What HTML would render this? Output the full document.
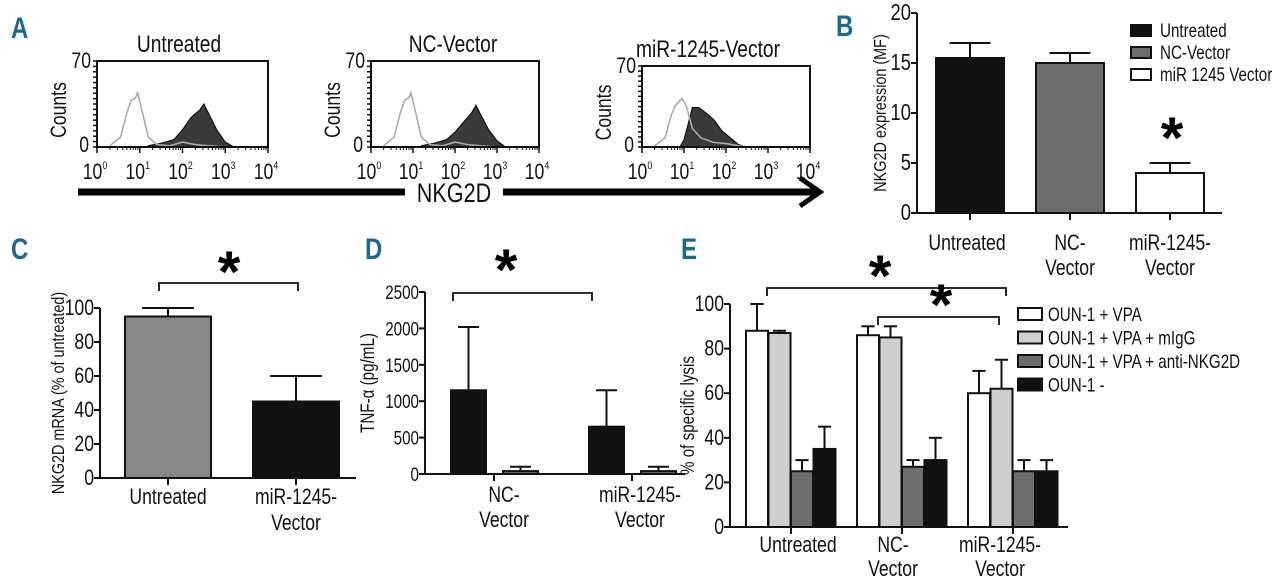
<!DOCTYPE html>
<html><head><meta charset="utf-8"><style>
html,body{margin:0;padding:0;background:#fff;}
svg{display:block;font-family:"Liberation Sans",sans-serif;}
.lbl{fill:#111}
.tk{fill:#111}
.pl{font-weight:bold;fill:#1a6a8f}
</style></head><body>
<svg id="fig" width="1280" height="581" viewBox="0 0 1280 581">
<g>
<text class="pl" font-size="30" x="11" y="38">A</text>
<text class="pl" font-size="30" x="836" y="36">B</text>
<text class="pl" font-size="30" x="11" y="259">C</text>
<text class="pl" font-size="30" x="365" y="259">D</text>
<text class="pl" font-size="30" x="681" y="259">E</text>
</g>
<g id="pa"></g>
<g id="pb"></g>
<g id="pc"></g>
<g id="pd"></g>
<g id="pe"></g>
</svg>
<script>
// ---- Panel A data (log10 fluorescence, counts) ----
const histTitles = ["Untreated","NC-Vector","miR-1245-Vector"];
const histXTicks = ["0","1","2","3","4"];
const isoLogX = [0.3,0.55,0.7,0.8,0.9,0.95,1.05,1.2,1.4,1.7,2.0,2.3,2.6,3.0];
const isoCountsA = [1,8,28,38,40,44,30,8,2,1,4,2,1,0];
const isoCountsB = [1,8,28,38,40,44,30,8,2,1,4,2,1,0];
const isoCountsC = [1,8,28,36,40,42,36,16,8,4,3,1,0,0];
const posLogX = [1.2,1.5,1.8,2.0,2.2,2.4,2.5,2.6,2.8,3.0,3.2];
const posCountsA = [1,3,6,14,24,30,35,28,14,4,0];
const posCountsB = [1,3,6,12,20,28,34,27,14,5,0];
const posLogXC = [0.9,1.0,1.1,1.2,1.35,1.5,1.7,1.9,2.1,2.3,2.5];
const posCountsC = [0,6,20,34,34,30,24,14,8,2,0];
// ---- Panel B ----
const bCats = [["Untreated"],["NC-","Vector"],["miR-1245-","Vector"]];
const bVals = [15.5,15,4];
const bErr = [17,16,5];
const bTicks = [0,5,10,15,20];
const bLegend = ["Untreated","NC-Vector","miR 1245 Vector"];
// ---- Panel C ----
const cCats = [["Untreated"],["miR-1245-","Vector"]];
const cVals = [95,45];
const cErr = [100,60];
const cTicks = [0,20,40,60,80,100];
// ---- Panel D ----
const dCats = [["NC-","Vector"],["miR-1245-","Vector"]];
const dVals1 = [1150,650];
const dErr1 = [2020,1150];
const dVals2 = [40,40];
const dErr2 = [100,100];
const dTicks = [0,500,1000,1500,2000,2500];
// ---- Panel E ----
const eCats = [["Untreated"],["NC-","Vector"],["miR-1245-","Vector"]];
const eS1 = [88,86,60], eE1 = [100,90,70];
const eS2 = [87,85,62], eE2 = [88,90,75];
const eS3 = [25,27,25], eE3 = [30,30,30];
const eS4 = [35,30,25], eE4 = [45,40,30];
const eTicks = [0,20,40,60,80,100];
const eLegend = ["OUN-1 + VPA","OUN-1 + VPA + mIgG","OUN-1 + VPA + anti-NKG2D","OUN-1 -"];

const NS="http://www.w3.org/2000/svg";
function mk(parent,tag,attrs,txt){const e=document.createElementNS(NS,tag);for(const k in attrs)e.setAttribute(k,attrs[k]);if(txt!==undefined)e.textContent=txt;parent.appendChild(e);return e;}

// ---------- Panel A ----------
const pa=document.getElementById('pa');
const boxes=[{x0:97,x1:268,y0:61,y1:147,tx:179},{x0:371,x1:539,y0:61,y1:147,tx:453},{x0:642,x1:810,y0:66,y1:147,tx:708}];
const isoSets=[isoCountsA,isoCountsB,isoCountsC];
const posSets=[[posLogX,posCountsA],[posLogX,posCountsB],[posLogXC,posCountsC]];
boxes.forEach((b,i)=>{
  const g=mk(pa,'g',{});
  
  
  const xs=v=>b.x0+(b.x1-b.x0)*v/4;
  const ys=v=>b.y1-(b.y1-b.y0)*v/70;
  let t=mk(g,'text',{class:'lbl',x:b.tx,y:b.y0-9,'text-anchor':'middle','font-size':'24'},histTitles[i]);
  
  const [px,pc]=posSets[i];
  let d='M'+xs(px[0])+','+ys(0);
  px.forEach((v,j)=>{d+=' L'+xs(v)+','+ys(pc[j]);});
  d+=' L'+xs(px[px.length-1])+','+ys(0)+'Z';
  let p=mk(g,'path',{d:d,fill:'#3a3a3a',stroke:'#111','stroke-width':1.2});
  
  let d2='';
  isoLogX.forEach((v,j)=>{d2+=(j?' L':'M')+xs(v)+','+ys(isoSets[i][j]);});
  p=mk(g,'path',{d:d2,fill:'none',stroke:'#aaa','stroke-width':1.6});
  
  mk(g,'rect',{x:b.x0,y:b.y0,width:b.x1-b.x0,height:b.y1-b.y0,fill:'none',stroke:'#111','stroke-width':2});
  for(let k=0;k<=16;k++)mk(g,'line',{x1:b.x0-4,x2:b.x0,y1:b.y0+(b.y1-b.y0)*k/16,y2:b.y0+(b.y1-b.y0)*k/16,stroke:'#111','stroke-width':1.5});
  histXTicks.forEach((s,k)=>{
    const x=xs(+s);
    mk(g,'line',{x1:x,x2:x,y1:b.y1,y2:b.y1+6,stroke:'#111','stroke-width':1.5});
    if(k<4)for(let m=2;m<10;m++){const xx=xs(+s+Math.log10(m));mk(g,'line',{x1:xx,x2:xx,y1:b.y1,y2:b.y1+3,stroke:'#111','stroke-width':1});}
    const tt=mk(g,'text',{class:'tk',x:x-2,y:b.y1+32,'text-anchor':'middle','font-size':22});
    
    mk(tt,'tspan',{},'10');mk(tt,'tspan',{dy:-10,'font-size':'11'},s);
  });
  mk(g,'text',{class:'tk',x:b.x0-6,y:b.y0+7,'text-anchor':'end','font-size':22},'70');
  mk(g,'text',{class:'tk',x:b.x0-8,y:b.y1+5,'text-anchor':'end','font-size':22},'0');
  t=mk(g,'text',{class:'lbl','font-size':22,transform:`translate(${b.x0-31},${(b.y0+b.y1)/2+6}) rotate(-90)`,'text-anchor':'middle'},'Counts');
  
});
let ar=mk(pa,'line',{x1:78,x2:405,y1:192,y2:192,stroke:'#000','stroke-width':7});

ar=mk(pa,'line',{x1:503,x2:818,y1:192,y2:192,stroke:'#000','stroke-width':7});

mk(pa,'path',{d:'M800,178 L820,192 L800,206',fill:'none',stroke:'#000','stroke-width':5});
let nt=mk(pa,'text',{class:'lbl',x:454,y:202,'text-anchor':'middle','font-size':'27'},'NKG2D');


function axis(g,o){
  const ys=v=>o.y0-(o.y0-o.yTop)*(v-o.min)/(o.max-o.min);
  mk(g,'line',{x1:o.ax,x2:o.ax,y1:o.y0,y2:ys(o.max),stroke:'#111','stroke-width':2});
  mk(g,'line',{x1:o.ax,x2:o.axEnd,y1:o.y0,y2:o.y0,stroke:'#111','stroke-width':2});
  o.ticks.forEach(v=>{
    const y=ys(v);
    mk(g,'line',{x1:o.ax-6,x2:o.ax,y1:y,y2:y,stroke:'#111','stroke-width':2});
    const t=mk(g,'text',{class:'tk',x:o.ax-6,y:y+7,'text-anchor':'end','font-size':o.fs||22},String(v));
    
  });
  const t=mk(g,'text',{class:'lbl','font-size':o.tfs||17,transform:`translate(${o.titleX},${(o.y0+ys(o.max))/2}) rotate(-90)`,'text-anchor':'middle'},o.title);
  
  return ys;
}
function bar(g,x,w,v,e,ys,fill,name){
  const y0=ys(0),y=ys(v),ye=ys(e),cx=x+w/2;
  mk(g,'line',{x1:cx,x2:cx,y1:y,y2:ye,stroke:'#111','stroke-width':2});
  mk(g,'line',{x1:cx-w*0.3,x2:cx+w*0.3,y1:ye,y2:ye,stroke:'#111','stroke-width':2});
  const r=mk(g,'rect',{x:x,y:y,width:w,height:y0-y,fill:fill,stroke:'#111','stroke-width':2});
  
}
function catLabel(g,x,y,lines,fs,gap){
  const t=mk(g,'text',{class:'lbl',x:x,y:y,'text-anchor':'middle','font-size':fs||22});
  
  lines.forEach((s,i)=>mk(t,'tspan',{x:x,dy:i?(gap||24):0},s));
}
function star(g,x,y,s){const t=mk(g,'text',{x:x,y:y,'text-anchor':'middle','font-size':s||50,'font-weight':'bold'},'*');}
function bracket(g,x1,x2,y){const p=mk(g,'path',{d:`M${x1},${y+8} L${x1},${y} L${x2},${y} L${x2},${y+8}`,fill:'none',stroke:'#111','stroke-width':1.8});}

// ---------- Panel B ----------
const pb=document.getElementById('pb');
let ys=axis(pb,{ax:917,axEnd:1222,y0:213,yTop:13,min:0,max:20,ticks:bTicks,title:'NKG2D expression (MF)',titleX:886,fs:23,tfs:18});
const bFills=['#111','#6e6e6e','#fff'];
bVals.forEach((v,i)=>{
  const cx=970+i*100;
  bar(pb,cx-34,68,v,bErr[i],ys,bFills[i],'bar-b-'+(i+1));
  mk(pb,'line',{x1:cx,x2:cx,y1:213,y2:220,stroke:'#111','stroke-width':2});
  catLabel(pb,cx+(i==0?-3:0),250,bCats[i],22,25);
});
star(pb,1172,158,58);
bLegend.forEach((s,i)=>{
  const y=25+i*22;
  const r=mk(pb,'rect',{x:1131,y:y,width:20,height:11,fill:bFills[i],stroke:'#111','stroke-width':2});
  
  const t=mk(pb,'text',{class:'lbl',x:1160,y:y+12,'font-size':19},s);
  
});

// ---------- Panel C ----------
const pc=document.getElementById('pc');
ys=axis(pc,{ax:100,axEnd:356,y0:478,yTop:308,min:0,max:100,ticks:cTicks,title:'NKG2D mRNA (% of untreated)',titleX:64,fs:22,tfs:18});
const cFills=['#888','#111'];
cVals.forEach((v,i)=>{
  const cx=168+i*128;
  bar(pc,cx-43,86,v,cErr[i],ys,cFills[i],'bar-c-'+(i+1));
  mk(pc,'line',{x1:cx,x2:cx,y1:478,y2:485,stroke:'#111','stroke-width':2});
  catLabel(pc,cx,504,cCats[i],22,26);
});
bracket(pc,159,298,283);
star(pc,229,292,58);

// ---------- Panel D ----------
const pd=document.getElementById('pd');
ys=axis(pd,{ax:425,axEnd:685,y0:474,yTop:292,min:0,max:2500,ticks:dTicks,title:'TNF-α (pg/mL)',titleX:374,fs:19,tfs:19});
dVals1.forEach((v,i)=>{
  const base=451+i*138;
  bar(pd,base,35,v,dErr1[i],ys,'#111','bar-d-tnf-'+(i+1));
  bar(pd,base+52,35,dVals2[i],dErr2[i],ys,'#666','bar-d-control-'+(i+1));
  const cx=base+43;
  mk(pd,'line',{x1:cx,x2:cx,y1:474,y2:481,stroke:'#111','stroke-width':2});
  catLabel(pd,cx+(i?8:10),502,dCats[i],22,25);
});
bracket(pd,453,592,293);
star(pd,506,290,58);

// ---------- Panel E ----------
const pe=document.getElementById('pe');
ys=axis(pe,{ax:730,axEnd:1068,y0:527,yTop:304,min:0,max:100,ticks:eTicks,title:'% of specific lysis',titleX:694,fs:22,tfs:19});
const eS=[eS1,eS2,eS3,eS4],eE=[eE1,eE2,eE3,eE4],eF=['#fff','#cfcfcf','#6e6e6e','#111'];
eCats.forEach((c,i)=>{
  const start=746+i*111;
  eS.forEach((s,k)=>bar(pe,start+k*22.5,22,s[i],eE[k][i],ys,eF[k],'bar-e-'+(i+1)+'-'+(k+1)));
  const cx=start+45;
  mk(pe,'line',{x1:cx,x2:cx,y1:527,y2:534,stroke:'#111','stroke-width':2});
  catLabel(pe,[798,893,1000][i],552,c,22,24);
});
bracket(pe,767,1006,288);
star(pe,880,296,58);
bracket(pe,878,999,317);
star(pe,941,325,58);
eLegend.forEach((s,i)=>{
  const y=308+i*23.5;
  const r=mk(pe,'rect',{x:1018,y:y,width:24,height:12,fill:eF[i],stroke:'#111','stroke-width':2});
  
  const t=mk(pe,'text',{class:'lbl',x:1048,y:y+13,'font-size':19},s);
  
});

// condense all text horizontally to mimic a narrow font
document.querySelectorAll('svg text').forEach(t=>{
  if(t.textContent==='*')return;
  const tr=t.getAttribute('transform');
  if(tr){t.setAttribute('transform',tr+' scale(0.8,1)');}
  else{const x=parseFloat(t.getAttribute('x'))||0;t.setAttribute('transform',`translate(${x},0) scale(0.8,1) translate(${-x},0)`);}
});
</script>
</body></html>
